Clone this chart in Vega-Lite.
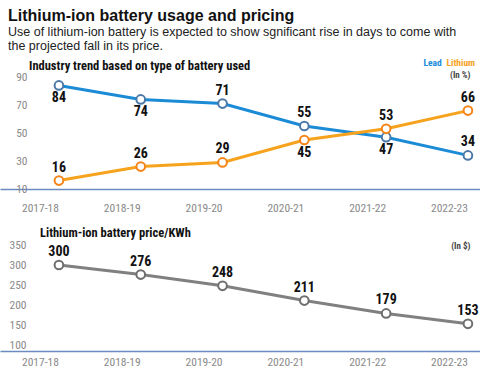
{
  "$schema": "https://vega.github.io/schema/vega-lite/v6.json",
  "padding": {"top": 7, "left": 0, "right": 0, "bottom": 0},
  "background": "white",
  "title": {
    "text": "Lithium-ion battery usage and pricing",
    "subtitle": ["Use of lithium-ion battery is expected to show sgnificant rise in days to come with", "the projected fall in its price."],
    "anchor": "start",
    "dx": 8,
    "font": "Liberation Sans",
    "fontSize": 16,
    "fontWeight": "bold",
    "color": "#111111",
    "subtitleFont": "Liberation Sans",
    "subtitleFontSize": 12.5,
    "subtitleColor": "#222222",
    "subtitleLineHeight": 14,
    "subtitlePadding": 2,
    "offset": 6
  },
  "datasets": {
    "usage": [
      {"year": "2017-18", "type": "Lead", "value": 84},
      {"year": "2018-19", "type": "Lead", "value": 74},
      {"year": "2019-20", "type": "Lead", "value": 71},
      {"year": "2020-21", "type": "Lead", "value": 55},
      {"year": "2021-22", "type": "Lead", "value": 47},
      {"year": "2022-23", "type": "Lead", "value": 34},
      {"year": "2017-18", "type": "Lithium", "value": 16},
      {"year": "2018-19", "type": "Lithium", "value": 26},
      {"year": "2019-20", "type": "Lithium", "value": 29},
      {"year": "2020-21", "type": "Lithium", "value": 45},
      {"year": "2021-22", "type": "Lithium", "value": 53},
      {"year": "2022-23", "type": "Lithium", "value": 66}
    ],
    "price": [
      {"year": "2017-18", "price": 300},
      {"year": "2018-19", "price": 276},
      {"year": "2019-20", "price": 248},
      {"year": "2020-21", "price": 211},
      {"year": "2021-22", "price": 179},
      {"year": "2022-23", "price": 153}
    ]
  },
  "config": {
    "view": {"stroke": null},
    "font": "Roboto Condensed, DejaVu Sans Condensed, sans-serif",
    "axis": {
      "grid": false,
      "ticks": false,
      "tickSize": 0,
      "labelFont": "Roboto Condensed, DejaVu Sans Condensed, sans-serif",
      "labelFontSize": 11.5,
      "labelColor": "#8a8a8a",
      "title": null
    }
  },
  "bounds": "flush",
  "spacing": 56,
  "vconcat": [
    {
      "width": 480,
      "height": 112,
      "data": {"name": "usage"},
      "title": {
        "text": "Industry trend based on type of battery used",
        "anchor": "start",
        "frame": "group",
        "dx": 29,
        "offset": -2,
        "font": "Roboto Condensed, DejaVu Sans Condensed, sans-serif",
        "fontSize": 12.5,
        "fontWeight": "bold",
        "color": "#111111"
      },
      "encoding": {
        "x": {
          "field": "year",
          "type": "ordinal",
          "scale": {"type": "point", "padding": 0.434, "align": 0.83},
          "axis": {
            "labelAngle": 0,
            "labelOffset": -19,
            "labelPadding": 13,
            "domainColor": "#6b8cc0",
            "domainWidth": 1.5
          }
        },
        "y": {
          "field": "value",
          "type": "quantitative",
          "scale": {"domain": [10, 90]},
          "axis": {
            "values": [10, 30, 50, 70, 90],
            "domain": false,
            "labelPadding": -27,
            "labelBaseline": "middle",
            "title": "(In %)",
            "titleAngle": 0,
            "titleX": 470,
            "titleY": -3,
            "titleAlign": "right",
            "titleBaseline": "middle",
            "titleFont": "Roboto Condensed, DejaVu Sans Condensed, sans-serif",
            "titleFontSize": 9,
            "titleFontWeight": "bold",
            "titleColor": "#444444"
          }
        },
        "color": {
          "field": "type",
          "type": "nominal",
          "scale": {"domain": ["Lead", "Lithium"], "range": ["#1b8bd6", "#f7a21d"]},
          "legend": {
            "orient": "none",
            "legendX": 424,
            "legendY": -19,
            "direction": "horizontal",
            "gridAlign": "none",
            "title": null,
            "symbolSize": 0,
            "symbolStrokeWidth": 0,
            "symbolOpacity": 0,
            "labelOffset": -10,
            "columnPadding": 4,
            "labelFont": "Roboto Condensed, DejaVu Sans Condensed, sans-serif",
            "labelFontSize": 9.5,
            "labelFontWeight": "bold",
            "encode": {
              "labels": {"update": {"fill": {"signal": "datum.label == 'Lead' ? '#1b8bd6' : '#f7a21d'"}}}
            }
          }
        }
      },
      "layer": [
        {"mark": {"type": "line", "strokeWidth": 3}},
        {"mark": {"type": "point", "filled": true, "fill": "white", "strokeWidth": 2, "size": 75, "opacity": 1}, "encoding": {"stroke": {"field": "type", "type": "nominal", "legend": null}}},
        {
          "transform": [{"filter": "!((datum.type == 'Lead' && (datum.year == '2017-18' || datum.year == '2018-19' || datum.year == '2021-22')) || (datum.type == 'Lithium' && datum.year == '2020-21'))"}],
          "mark": {"type": "text", "dy": -13, "fontSize": 14, "fontWeight": "bold"},
          "encoding": {"text": {"field": "value", "type": "quantitative"}, "color": {"value": "#111111"}}
        },
        {
          "transform": [{"filter": "(datum.type == 'Lead' && (datum.year == '2017-18' || datum.year == '2018-19' || datum.year == '2021-22')) || (datum.type == 'Lithium' && datum.year == '2020-21')"}],
          "mark": {"type": "text", "dy": 13, "fontSize": 14, "fontWeight": "bold"},
          "encoding": {"text": {"field": "value", "type": "quantitative"}, "color": {"value": "#111111"}}
        }
      ]
    },
    {
      "width": 480,
      "height": 106,
      "data": {"name": "price"},
      "title": {
        "text": "Lithium-ion battery price/KWh",
        "anchor": "start",
        "frame": "group",
        "dx": 40,
        "offset": 0,
        "font": "Roboto Condensed, DejaVu Sans Condensed, sans-serif",
        "fontSize": 12.5,
        "fontWeight": "bold",
        "color": "#111111"
      },
      "encoding": {
        "x": {
          "field": "year",
          "type": "ordinal",
          "scale": {"type": "point", "padding": 0.434, "align": 0.83},
          "axis": {
            "labelAngle": 0,
            "labelOffset": -19,
            "labelPadding": 5,
            "domainColor": "#6b8cc0",
            "domainWidth": 1.5
          }
        },
        "y": {
          "field": "price",
          "type": "quantitative",
          "scale": {"domain": [85, 350]},
          "axis": {
            "values": [100, 150, 200, 250, 300, 350],
            "domain": false,
            "labelPadding": -26,
            "labelBaseline": "middle",
            "title": "(In $)",
            "titleAngle": 0,
            "titleX": 470,
            "titleY": 0,
            "titleAlign": "right",
            "titleBaseline": "middle",
            "titleFont": "Roboto Condensed, DejaVu Sans Condensed, sans-serif",
            "titleFontSize": 9,
            "titleFontWeight": "bold",
            "titleColor": "#444444"
          }
        }
      },
      "layer": [
        {"mark": {"type": "line", "strokeWidth": 3, "color": "#808080"}},
        {"mark": {"type": "point", "filled": true, "fill": "white", "stroke": "#6e6e6e", "strokeWidth": 2, "size": 75, "opacity": 1}},
        {
          "mark": {"type": "text", "dy": -13, "fontSize": 14, "fontWeight": "bold", "color": "#111111"},
          "encoding": {"text": {"field": "price", "type": "quantitative"}}
        }
      ]
    }
  ]
}
